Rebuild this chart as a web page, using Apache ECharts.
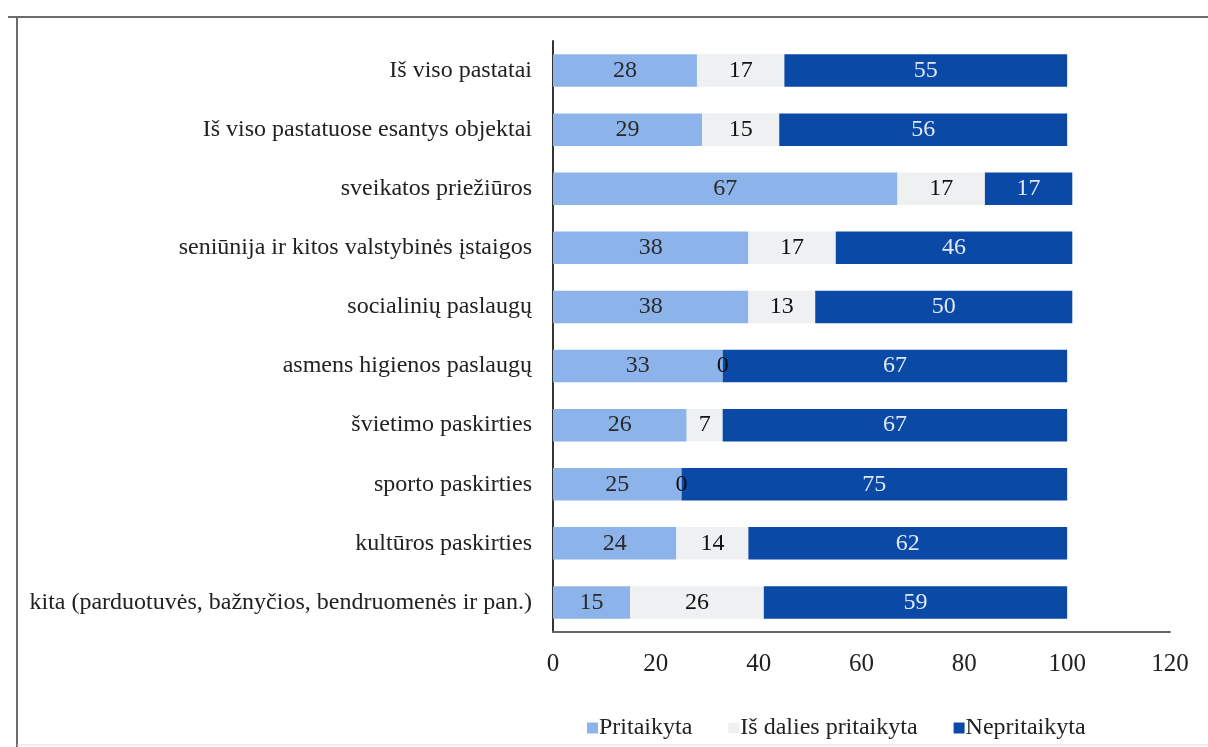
<!DOCTYPE html>
<html>
<head>
<meta charset="utf-8">
<script src="https://cdn.jsdelivr.net/npm/echarts@6/dist/echarts.min.js"></script>
<style>
html,body{margin:0;padding:0;background:#fff;}
#chart{width:1208px;height:747px;}
</style>
</head>
<body>
<div id="chart"></div>
<script>
const categories = [
  "Iš viso pastatai",
  "Iš viso pastatuose esantys objektai",
  "sveikatos priežiūros",
  "seniūnija ir kitos valstybinės įstaigos",
  "socialinių paslaugų",
  "asmens higienos paslaugų",
  "švietimo paskirties",
  "sporto paskirties",
  "kultūros paskirties",
  "kita (parduotuvės, bažnyčios, bendruomenės ir pan.)"
];
const seriesNames = ["Pritaikyta", "Iš dalies pritaikyta", "Nepritaikyta"];
const pritaikyta = [28, 29, 67, 38, 38, 33, 26, 25, 24, 15];
const isDalies = [17, 15, 17, 17, 13, 0, 7, 0, 14, 26];
const nepritaikyta = [55, 56, 17, 46, 50, 67, 67, 75, 62, 59];
const xTicks = [0, 20, 40, 60, 80, 100, 120];

const font = "Liberation Serif";
const colors = ["#8db4ea", "#eff0f2", "#0b49a6"];
const labelColors = ["#2a2a2a", "#111111", "#dfe8f6"];

const chart = echarts.init(document.getElementById('chart'));
const dataSets = [pritaikyta, isDalies, nepritaikyta];
chart.setOption({
  animation: false,
  backgroundColor: '#fff',
  textStyle: { fontFamily: font },
  graphic: [
    { type: 'line', shape: { x1: 8, y1: 17, x2: 1208, y2: 17 }, style: { stroke: '#6b6b6b', lineWidth: 2 } },
    { type: 'line', shape: { x1: 17, y1: 17, x2: 17, y2: 747 }, style: { stroke: '#6b6b6b', lineWidth: 2 } },
    { type: 'line', shape: { x1: 17, y1: 745, x2: 1208, y2: 745 }, style: { stroke: '#dddddd', lineWidth: 1 } }
  ],
  legend: {
    data: seriesNames,
    bottom: 2,
    left: 582,
    itemWidth: 11,
    itemHeight: 11,
    itemGap: 36,
    icon: 'rect',
    textStyle: { fontFamily: font, fontSize: 24, color: '#222', padding: [0, 0, 0, -4] }
  },
  grid: { left: 553, right: 38, top: 41, bottom: 115, containLabel: false },
  xAxis: {
    type: 'value',
    min: xTicks[0],
    max: xTicks[xTicks.length - 1],
    interval: xTicks[1] - xTicks[0],
    axisLine: { show: true, lineStyle: { color: '#666', width: 2 } },
    axisTick: { show: false },
    splitLine: { show: false },
    axisLabel: { fontFamily: font, fontSize: 25, color: '#222', margin: 20 }
  },
  yAxis: {
    type: 'category',
    data: categories,
    inverse: true,
    axisLine: { show: true, lineStyle: { color: '#333', width: 2 } },
    axisTick: { show: false },
    axisLabel: { fontFamily: font, fontSize: 24, color: '#222', margin: 21 }
  },
  series: seriesNames.map((name, i) => ({
    name: name,
    type: 'bar',
    stack: 'total',
    barCategoryGap: '45%',
    data: dataSets[i],
    itemStyle: { color: colors[i] },
    label: {
      show: true,
      position: 'inside',
      fontFamily: font,
      fontSize: 24,
      color: labelColors[i]
    }
  }))
});
</script>
</body>
</html>
